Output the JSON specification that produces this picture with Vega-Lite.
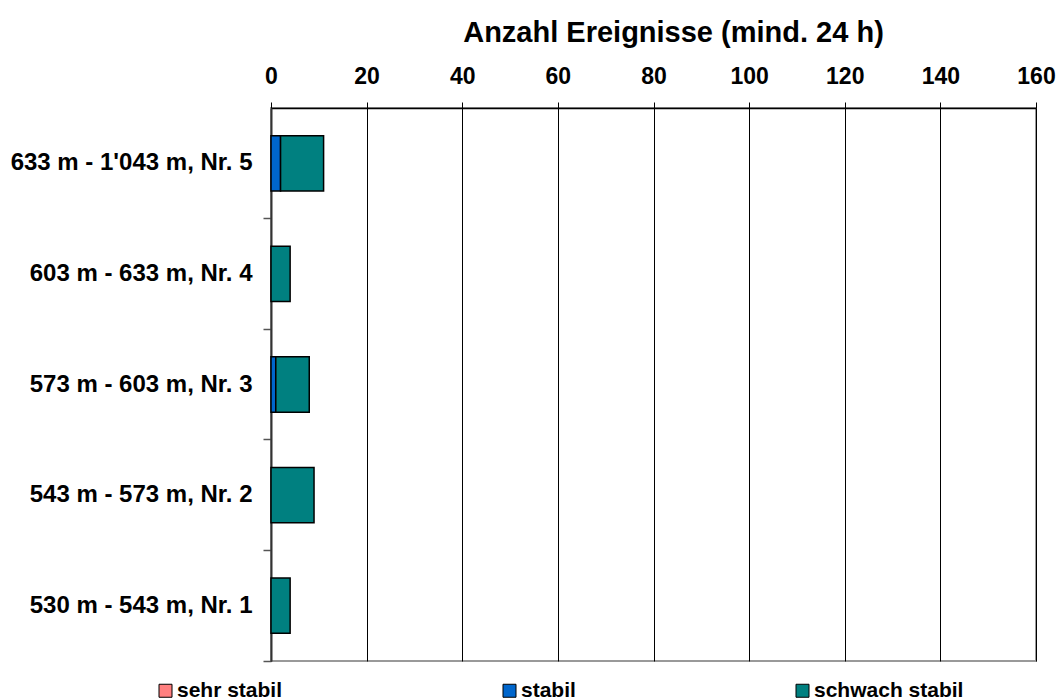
{
  "$schema": "https://vega.github.io/schema/vega-lite/v6.json",
  "width": 765,
  "height": 553,
  "autosize": {"type": "none"},
  "padding": {"left": 271, "top": 108, "right": 25, "bottom": 39},
  "background": "white",
  "config": {
    "font": "Liberation Sans",
    "view": {"stroke": "#999999", "strokeWidth": 2}
  },
  "data": {
    "values": [
      {"bereich": "633 m - 1'043 m, Nr. 5", "klasse": "stabil", "ord": 1, "anzahl": 2},
      {"bereich": "633 m - 1'043 m, Nr. 5", "klasse": "schwach stabil", "ord": 2, "anzahl": 9},
      {"bereich": "603 m - 633 m, Nr. 4", "klasse": "schwach stabil", "ord": 2, "anzahl": 4},
      {"bereich": "573 m - 603 m, Nr. 3", "klasse": "stabil", "ord": 1, "anzahl": 1},
      {"bereich": "573 m - 603 m, Nr. 3", "klasse": "schwach stabil", "ord": 2, "anzahl": 7},
      {"bereich": "543 m - 573 m, Nr. 2", "klasse": "schwach stabil", "ord": 2, "anzahl": 9},
      {"bereich": "530 m - 543 m, Nr. 1", "klasse": "schwach stabil", "ord": 2, "anzahl": 4}
    ]
  },
  "mark": {"type": "bar", "stroke": "black", "strokeWidth": 1.5},
  "encoding": {
    "y": {
      "field": "bereich",
      "type": "nominal",
      "sort": ["633 m - 1'043 m, Nr. 5", "603 m - 633 m, Nr. 4", "573 m - 603 m, Nr. 3", "543 m - 573 m, Nr. 2", "530 m - 543 m, Nr. 1"],
      "scale": {"paddingInner": 0.5, "paddingOuter": 0.25},
      "axis": {
        "title": null,
        "bandPosition": 1.5,
        "domainColor": "#333333",
        "domainWidth": 2,
        "tickColor": "#555555",
        "tickWidth": 1.5,
        "tickSize": 8,
        "labelFont": "Liberation Sans",
        "labelFontSize": 24,
        "labelFontWeight": "bold",
        "labelColor": "black",
        "labelPadding": 11,
        "labelLimit": 400
      }
    },
    "x": {
      "field": "anzahl",
      "type": "quantitative",
      "stack": "zero",
      "scale": {"domain": [0, 160], "nice": false},
      "axis": {
        "orient": "top",
        "values": [0, 20, 40, 60, 80, 100, 120, 140, 160],
        "title": "Anzahl Ereignisse (mind. 24 h)",
        "titleFont": "Liberation Sans",
        "titleFontSize": 29,
        "titleFontWeight": "bold",
        "titleColor": "black",
        "titlePadding": 18,
        "titleX": 402,
        "titleAlign": "center",
        "domainColor": "black",
        "domainWidth": 1.5,
        "tickColor": "black",
        "tickSize": 6,
        "grid": true,
        "gridColor": "black",
        "gridWidth": 1,
        "labelFlush": false,
        "labelFont": "Liberation Sans",
        "labelFontSize": 23,
        "labelFontWeight": "bold",
        "labelColor": "black",
        "labelPadding": 14
      }
    },
    "color": {
      "field": "klasse",
      "type": "nominal",
      "scale": {
        "domain": ["sehr stabil", "stabil", "schwach stabil"],
        "range": ["#ff7f7f", "#0066cc", "#008080"]
      },
      "legend": {
        "title": null,
        "orient": "none",
        "direction": "horizontal",
        "legendX": -116,
        "legendY": 572,
        "symbolType": "square",
        "symbolSize": 169,
        "symbolStrokeColor": "black",
        "symbolStrokeWidth": 1,
        "symbolOpacity": 1,
        "labelFont": "Liberation Sans",
        "labelFontSize": 21,
        "labelFontWeight": "bold",
        "labelColor": "black",
        "labelOffset": 1,
        "columnPadding": 216
      }
    },
    "order": {"field": "ord", "type": "quantitative"}
  }
}
